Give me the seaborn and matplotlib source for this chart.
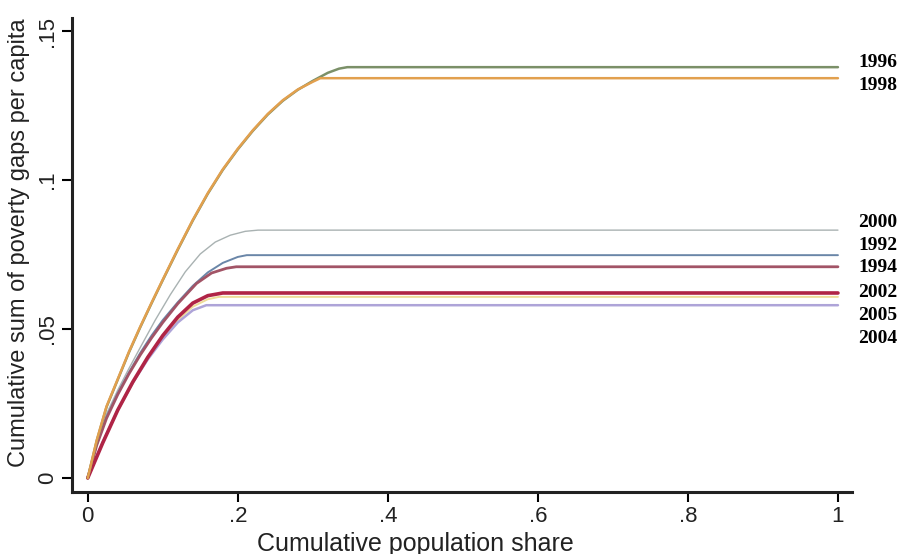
import matplotlib
matplotlib.use('Agg')
import matplotlib.pyplot as plt
import pandas as pd
import seaborn as sns


# TIP curves by survey year.
YEARS = ['1996', '1998', '2000', '1992', '1994', '2002', '2005', '2004']

SHARE_1996 = [0, 0.012, 0.025, 0.04, 0.055, 0.07, 0.085, 0.1, 0.12, 0.14, 0.16, 0.18,
              0.2, 0.22, 0.24, 0.26, 0.28, 0.3, 0.32, 0.335, 0.346, 1.0]
GAP_1996 = [0, 0.0125, 0.0238, 0.0330, 0.0422, 0.0506, 0.0586, 0.0664, 0.0766, 0.0864, 0.0954, 0.1034,
            0.1103, 0.1165, 0.1220, 0.1266, 0.1303, 0.1333, 0.1360, 0.1374, 0.1379, 0.1379]

SHARE_1998 = [0, 0.012, 0.025, 0.04, 0.055, 0.07, 0.085, 0.1, 0.12, 0.14, 0.16, 0.18,
              0.2, 0.22, 0.24, 0.26, 0.28, 0.3, 0.31, 1.0]
GAP_1998 = [0, 0.0127, 0.0240, 0.0332, 0.0424, 0.0508, 0.0588, 0.0666, 0.0768, 0.0866, 0.0956, 0.1036,
            0.1105, 0.1167, 0.1222, 0.1268, 0.1304, 0.1330, 0.1342, 0.1342]

SHARE_2000 = [0, 0.012, 0.025, 0.04, 0.055, 0.07, 0.09, 0.11, 0.13, 0.15, 0.17, 0.19, 0.21, 0.227, 1.0]
GAP_2000 = [0, 0.0115, 0.0215, 0.0295, 0.0368, 0.0438, 0.0530, 0.0615, 0.0692, 0.0752, 0.0792, 0.0815,
            0.0828, 0.0832, 0.0832]

SHARE_1992 = [0, 0.012, 0.025, 0.04, 0.055, 0.07, 0.085, 0.1, 0.12, 0.14, 0.16, 0.18, 0.2, 0.212, 1.0]
GAP_1992 = [0, 0.0112, 0.0205, 0.0285, 0.0355, 0.0420, 0.0478, 0.0530, 0.0590, 0.0645, 0.0690, 0.0722,
            0.0742, 0.0748, 0.0748]

SHARE_1994 = [0, 0.012, 0.025, 0.04, 0.055, 0.07, 0.085, 0.1, 0.12, 0.145, 0.165, 0.185, 0.198, 1.0]
GAP_1994 = [0, 0.0110, 0.0200, 0.0280, 0.0350, 0.0413, 0.0470, 0.0522, 0.0585, 0.0653, 0.0688, 0.0704,
            0.0709, 0.0709]

SHARE_2002 = [0, 0.02, 0.04, 0.06, 0.08, 0.1, 0.12, 0.14, 0.16, 0.18, 1.0]
GAP_2002 = [0, 0.0118, 0.0228, 0.0322, 0.0405, 0.0478, 0.0540, 0.0587, 0.0612, 0.0621, 0.0621]

SHARE_2005 = [0, 0.02, 0.04, 0.06, 0.08, 0.1, 0.12, 0.14, 0.16, 0.175, 1.0]
GAP_2005 = [0, 0.0118, 0.0226, 0.0318, 0.0400, 0.0470, 0.0530, 0.0575, 0.0600, 0.0608, 0.0608]

SHARE_2004 = [0, 0.02, 0.04, 0.06, 0.08, 0.1, 0.12, 0.14, 0.158, 1.0]
GAP_2004 = [0, 0.0120, 0.0228, 0.0320, 0.0398, 0.0465, 0.0522, 0.0563, 0.0580, 0.0580]

X_TICKS = [0, 0.2, 0.4, 0.6, 0.8, 1.0]
X_TICK_LABELS = ['0', '.2', '.4', '.6', '.8', '1']
Y_TICKS = [0, 0.05, 0.1, 0.15]
Y_TICK_LABELS = ['0', '.05', '.1', '.15']

SERIES = {
    '1996': (SHARE_1996, GAP_1996),
    '1998': (SHARE_1998, GAP_1998),
    '2000': (SHARE_2000, GAP_2000),
    '1992': (SHARE_1992, GAP_1992),
    '1994': (SHARE_1994, GAP_1994),
    '2002': (SHARE_2002, GAP_2002),
    '2005': (SHARE_2005, GAP_2005),
    '2004': (SHARE_2004, GAP_2004),
}

# styling
COLORS = {
    '1996': '#7b9068', '1998': '#e2a04e', '2000': '#a9b2b2', '1992': '#6a86a8',
    '1994': '#a25466', '2002': '#b02446', '2005': '#eedc98', '2004': '#aea4d8',
}
WIDTHS = {
    '1996': 1.8, '1998': 1.8, '2000': 1.0, '1992': 1.4,
    '1994': 2.0, '2002': 2.6, '2005': 1.4, '2004': 1.8,
}
# vertical nudge of the right-hand year labels, in pixels
NUDGE = {
    '1996': 5, '1998': -7, '2000': 8, '1992': 10,
    '1994': -1, '2002': 0, '2005': -19, '2004': -33,
}


def main():
    sns.set_theme(style='white')
    plt.rcParams['font.family'] = ['Liberation Sans', 'DejaVu Sans']

    frames = []
    for year in YEARS:
        share, gap = SERIES[year]
        frames.append(pd.DataFrame({'share': share, 'gap': gap, 'year': year}))
    df = pd.concat(frames, ignore_index=True)

    fig = plt.figure(figsize=(9.02, 5.54), dpi=100)
    ax = fig.add_axes([0.0798, 0.1119, 0.865, 0.8556])

    # thin lines first so the heavy ones sit on top
    for year in ['2000', '2005', '1992', '2004', '1994', '2002', '1996', '1998']:
        sns.lineplot(
            data=df[df['year'] == year], x='share', y='gap',
            color=COLORS[year], linewidth=WIDTHS[year],
            estimator=None, sort=False, ax=ax, legend=False,
        )

    for year in YEARS:
        share, gap = SERIES[year]
        ax.annotate(
            year, xy=(1.0, gap[-1]), xycoords='data',
            xytext=(20, NUDGE[year]), textcoords='offset pixels',
            ha='left', va='center', fontsize=14, fontweight='bold',
            family=['Liberation Serif', 'DejaVu Serif'], color='black',
            annotation_clip=False,
        )

    ax.set_xlim(-0.021, 1.019)
    ax.set_ylim(-0.0047, 0.1544)
    ax.set_xticks(X_TICKS)
    ax.set_xticklabels(X_TICK_LABELS, fontsize=16, color='#222222')
    ax.set_yticks(Y_TICKS)
    ax.set_yticklabels(Y_TICK_LABELS, fontsize=16, rotation=90, va='center', color='#222222')
    ax.tick_params(axis='both', direction='out', length=7, width=1.5,
                   color='black', pad=3, left=True, bottom=True)
    ax.set_xlabel('Cumulative population share', fontsize=18, color='#222222')
    ax.set_ylabel('Cumulative sum of poverty gaps per capita', fontsize=17, color='#222222')
    ax.xaxis.set_label_coords(0.44, -0.084)
    ax.yaxis.set_label_coords(-0.054, 0.527)

    for side in ['top', 'right']:
        ax.spines[side].set_visible(False)
    for side in ['left', 'bottom']:
        ax.spines[side].set_color('#222222')
        ax.spines[side].set_linewidth(2.2)
    ax.grid(False)

    fig.savefig('out.png', dpi=100)


if __name__ == '__main__':
    main()
